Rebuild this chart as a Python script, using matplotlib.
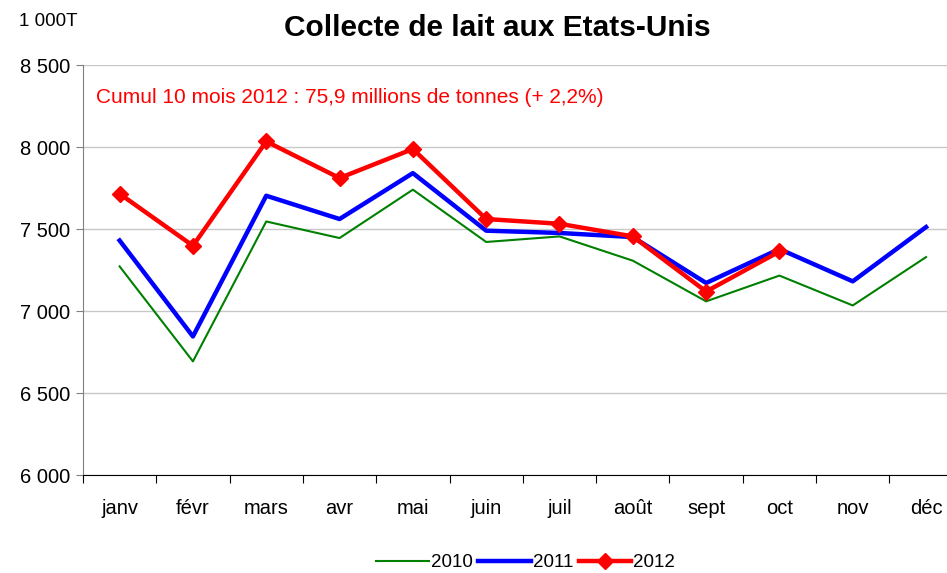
import matplotlib
matplotlib.use("Agg")
import matplotlib.pyplot as plt
import numpy as np

# Collecte de lait aux Etats-Unis (1 000 t)
months = ['janv', 'févr', 'mars', 'avr', 'mai', 'juin', 'juil', 'août',
          'sept', 'oct', 'nov', 'déc']
y2010 = [7272, 6693, 7546, 7445, 7740, 7421, 7455, 7307, 7059, 7216, 7034, 7329]
y2011 = [7430, 6845, 7703, 7561, 7841, 7490, 7476, 7451, 7171, 7378, 7181, 7512]
y2012 = [7715, 7398, 8034, 7811, 7988, 7561, 7532, 7455, 7119, 7363]
yticks = [6000, 6500, 7000, 7500, 8000, 8500]

plt.rcParams['font.family'] = ['Liberation Sans', 'DejaVu Sans']

fig = plt.figure(figsize=(9.47, 5.73), dpi=100)
ax = fig.add_axes([0.0876, 0.171, 0.929, 0.7155])

x = np.arange(len(months))
ax.plot(x, y2010, color='#008000', lw=1.5, label='2010', zorder=3)
ax.plot(x, y2011, color='#0000ff', lw=3.2, label='2011', zorder=4)
ax.plot(x[:len(y2012)], y2012, color='#ff0000', lw=3.2, marker='D',
        markersize=8, label='2012', zorder=5)

ax.set_xlim(-0.5, 11.5)
ax.set_ylim(6000, 8500)
ax.set_yticks(yticks)
ax.set_yticklabels([f'{v:,}'.replace(',', ' ') for v in yticks], fontsize=14.5)
ax.yaxis.grid(True, color='#c8c8c8', lw=1)
ax.set_axisbelow(True)

# category boundaries as ticks, labels in between
ax.set_xticks(np.arange(-0.5, 12, 1))
ax.set_xticklabels([])
ax.set_xticks(x, minor=True)
ax.set_xticklabels(months, minor=True, fontsize=14.5)
ax.tick_params(axis='x', which='major', length=6, color='black', direction='out')
ax.tick_params(axis='x', which='minor', length=0, pad=17)
ax.tick_params(axis='y', length=5, color='#808080', pad=4)

for s in ['top', 'right']:
    ax.spines[s].set_visible(False)
ax.spines['left'].set_color('#808080')
ax.spines['bottom'].set_color('black')

fig.text(0.525, 0.951, 'Collecte de lait aux Etats-Unis', ha='center',
         va='center', fontsize=21.5, fontweight='bold')
fig.text(0.02, 0.962, '1 000T', ha='left', va='center', fontsize=13.5)
ax.text(0.015, 0.92, 'Cumul 10 mois 2012 : 75,9 millions de tonnes (+ 2,2%)',
        transform=ax.transAxes, color='#ff0000', fontsize=15, va='center')

fig.legend(loc='center', bbox_to_anchor=(0.555, 0.018), ncol=3, frameon=False,
           fontsize=13.5, handlelength=2.8, handletextpad=0.1, columnspacing=0.3)

fig.savefig('out.png', dpi=100)
